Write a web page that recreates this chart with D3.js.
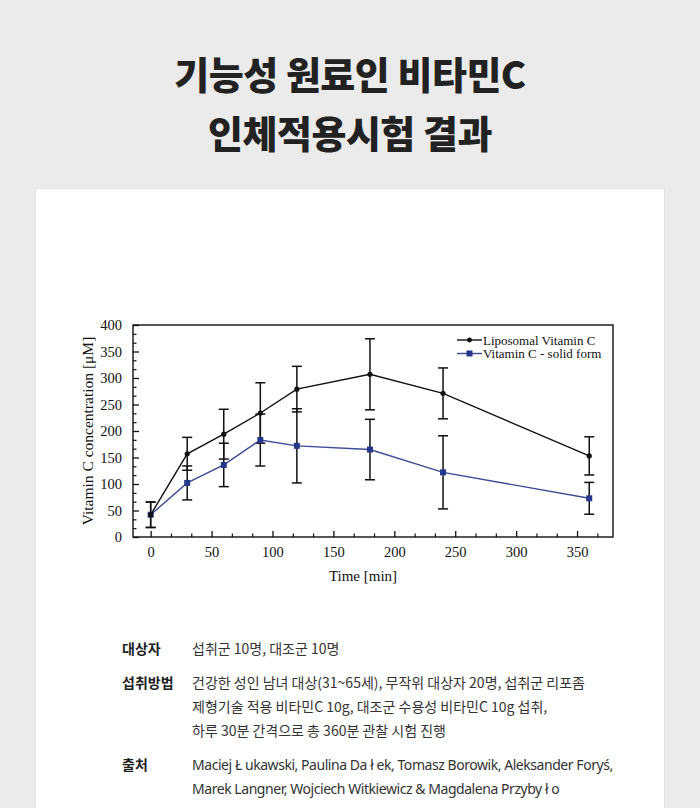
<!DOCTYPE html>
<html>
<head>
<meta charset="utf-8">
<script src="https://cdn.jsdelivr.net/npm/d3@7/dist/d3.min.js"></script>
<style>
  html, body { margin: 0; padding: 0; background: #ebebeb; }
  svg { display: block; }
</style>
</head>
<body>
<svg id="chart" width="700" height="808"></svg>
<script>
// ---- Data ----
const times = [0, 30, 60, 90, 120, 180, 240, 360];
const liposomal = [42, 157, 194, 234, 279, 307, 271, 153];
const liposomalErr = [24, 31, 47, 57, 43, 67, 48, 36];
const solid = [42, 102, 136, 183, 172, 165, 122, 73];
const solidErr = [24, 32, 41, 49, 70, 57, 69, 30];
const seriesNames = ["Liposomal Vitamin C", "Vitamin C - solid form"];
const xTickValues = [0, 50, 100, 150, 200, 250, 300, 350];
const yTickValues = [0, 50, 100, 150, 200, 250, 300, 350, 400];
const titleLines = ["기능성 원료인 비타민C", "인체적용시험 결과"];
const infoRows = [
  { label: "대상자", latin: false, lines: ["섭취군 10명, 대조군 10명"] },
  { label: "섭취방법", latin: false, lines: ["건강한 성인 남녀 대상(31~65세), 무작위 대상자 20명, 섭취군 리포좀",
                              "제형기술 적용 비타민C 10g, 대조군 수용성 비타민C 10g 섭취,",
                              "하루 30분 간격으로 총 360분 관찰 시험 진행"] },
  { label: "출처", latin: true, lines: ["Maciej \u0141 ukawski, Paulina Da \u0142 ek, Tomasz Borowik, Aleksander Fory\u015B,",
                          "Marek Langner, Wojciech Witkiewicz & Magdalena Przyby \u0142 o"] }
];

const svg = d3.select("#chart");
const sans = "'Noto Sans CJK KR', 'Noto Sans', sans-serif";
const latinSans = "'Noto Sans', 'Noto Sans CJK KR', sans-serif";
const serif = "'Liberation Serif', 'DejaVu Serif', serif";

// background & card
svg.append("rect").attr("x", 0).attr("y", 0).attr("width", 700).attr("height", 808).attr("fill", "#ebebeb");
svg.append("rect").attr("x", 35.5).attr("y", 188.5).attr("width", 629).attr("height", 640)
  .attr("fill", "#ffffff").attr("stroke", "#e2e2e2");

// title
svg.selectAll("text.title").data(titleLines).join("text")
  .attr("class", "title")
  .attr("x", 350).attr("y", (d, i) => 89 + i * 59)
  .attr("text-anchor", "middle")
  .attr("font-family", sans).attr("font-weight", 800).attr("font-size", 38)
  .attr("letter-spacing", -0.5)
  .attr("fill", "#222").text(d => d);

// ---- Plot ----
const plot = { left: 133, right: 613, top: 325, bottom: 537 };
const x = d3.scaleLinear().domain([-14.5, 379.5]).range([plot.left, plot.right]);
const y = d3.scaleLinear().domain([0, 400]).range([plot.bottom, plot.top]);

const g = svg.append("g");

// minor ticks
const xMinor = d3.range(0, 380, 50 / 3).filter(v => !xTickValues.some(t => Math.abs(t - v) < 1e-6));
const yMinor = d3.range(0, 400, 50 / 3).filter(v => !yTickValues.some(t => Math.abs(t - v) < 1e-6));

const xAxis = d3.axisBottom(x).tickValues(xTickValues).tickSize(-6).tickPadding(10).tickFormat(d3.format("d"));
const yAxis = d3.axisLeft(y).tickValues(yTickValues).tickSize(-6).tickPadding(11).tickFormat(d3.format("d"));

const gx = g.append("g").attr("transform", `translate(0,${plot.bottom})`).call(xAxis);
const gy = g.append("g").attr("transform", `translate(${plot.left},0)`).call(yAxis);
[gx, gy].forEach(a => {
  a.select(".domain").remove();
  a.selectAll("line").attr("stroke", "#111").attr("stroke-width", 1.3);
  a.selectAll("text").attr("font-family", serif).attr("font-size", 14.5).attr("fill", "#111");
});
g.append("g").attr("transform", `translate(0,${plot.bottom})`)
  .call(d3.axisBottom(x).tickValues(xMinor).tickSize(-3.5).tickFormat(""))
  .call(a => { a.select(".domain").remove(); a.selectAll("line").attr("stroke", "#111").attr("stroke-width", 1.2); });
g.append("g").attr("transform", `translate(${plot.left},0)`)
  .call(d3.axisLeft(y).tickValues(yMinor).tickSize(-3.5).tickFormat(""))
  .call(a => { a.select(".domain").remove(); a.selectAll("line").attr("stroke", "#111").attr("stroke-width", 1.2); });

// frame
g.append("rect").attr("x", plot.left).attr("y", plot.top)
  .attr("width", plot.right - plot.left).attr("height", plot.bottom - plot.top)
  .attr("fill", "none").attr("stroke", "#111").attr("stroke-width", 1.4);

// axis labels
g.append("text").attr("x", 363).attr("y", 581).attr("text-anchor", "middle")
  .attr("font-family", serif).attr("font-size", 15).attr("fill", "#111").text("Time [min]");
g.append("text").attr("transform", `translate(93,${(plot.top + plot.bottom) / 2}) rotate(-90)`)
  .attr("text-anchor", "middle")
  .attr("font-family", serif).attr("font-size", 15.5).attr("fill", "#111").text("Vitamin C concentration [μM]");

const series = [
  { name: seriesNames[0], vals: liposomal, errs: liposomalErr, color: "#111", marker: "circle" },
  { name: seriesNames[1], vals: solid, errs: solidErr, color: "#3b4b96", marker: "square" }
];
const lineGen = d3.line().x(d => x(d.t)).y(d => y(d.v));

series.slice().reverse().forEach(s => {
  const pts = times.map((t, i) => ({ t, v: s.vals[i], e: s.errs[i] }));
  const eb = g.append("g");
  pts.forEach(p => {
    eb.append("line").attr("x1", x(p.t)).attr("x2", x(p.t)).attr("y1", y(p.v - p.e)).attr("y2", y(p.v + p.e))
      .attr("stroke", "#111").attr("stroke-width", 1.5);
    [p.v - p.e, p.v + p.e].forEach(v => {
      eb.append("line").attr("x1", x(p.t) - 5).attr("x2", x(p.t) + 5).attr("y1", y(v)).attr("y2", y(v))
        .attr("stroke", "#111").attr("stroke-width", 1.5);
    });
  });
});
series.slice().reverse().forEach(s => {
  const pts = times.map((t, i) => ({ t, v: s.vals[i] }));
  g.append("path").datum(pts).attr("d", lineGen).attr("fill", "none")
    .attr("stroke", s.color).attr("stroke-width", 1.4);
  if (s.marker === "circle") {
    g.selectAll(null).data(pts).join("circle")
      .attr("cx", d => x(d.t)).attr("cy", d => y(d.v)).attr("r", 2.6).attr("fill", "#111");
  } else {
    g.selectAll(null).data(pts).join("rect")
      .attr("x", d => x(d.t) - 3).attr("y", d => y(d.v) - 3).attr("width", 6).attr("height", 6).attr("fill", "#25378a");
  }
});

// legend
const leg = g.append("g");
series.forEach((s, i) => {
  const ly = 340 + i * 13.5;
  leg.append("line").attr("x1", 457).attr("x2", 482).attr("y1", ly).attr("y2", ly)
    .attr("stroke", s.color).attr("stroke-width", 1.4);
  if (s.marker === "circle") leg.append("circle").attr("cx", 469.5).attr("cy", ly).attr("r", 2.4).attr("fill", "#111");
  else leg.append("rect").attr("x", 466.5).attr("y", ly - 3).attr("width", 6).attr("height", 6).attr("fill", "#25378a");
  leg.append("text").attr("x", 483).attr("y", ly + 4.5)
    .attr("font-family", serif).attr("font-size", 13).attr("fill", "#111").text(s.name);
});

// ---- Info section ----
const info = svg.append("g");
const rowY = [654, 688, 770];
infoRows.forEach((r, i) => {
  info.append("text").attr("x", 122).attr("y", rowY[i])
    .attr("font-family", sans).attr("font-weight", 700).attr("font-size", 14).attr("fill", "#222").text(r.label);
  r.lines.forEach((ln, j) => {
    info.append("text").attr("x", 192).attr("y", rowY[i] + j * 24)
      .attr("font-family", r.latin ? latinSans : sans).attr("font-weight", 400).attr("font-size", 14)
      .attr("letter-spacing", r.latin ? -0.45 : 0)
      .attr("fill", "#333").text(ln);
  });
});
</script>
</body>
</html>
